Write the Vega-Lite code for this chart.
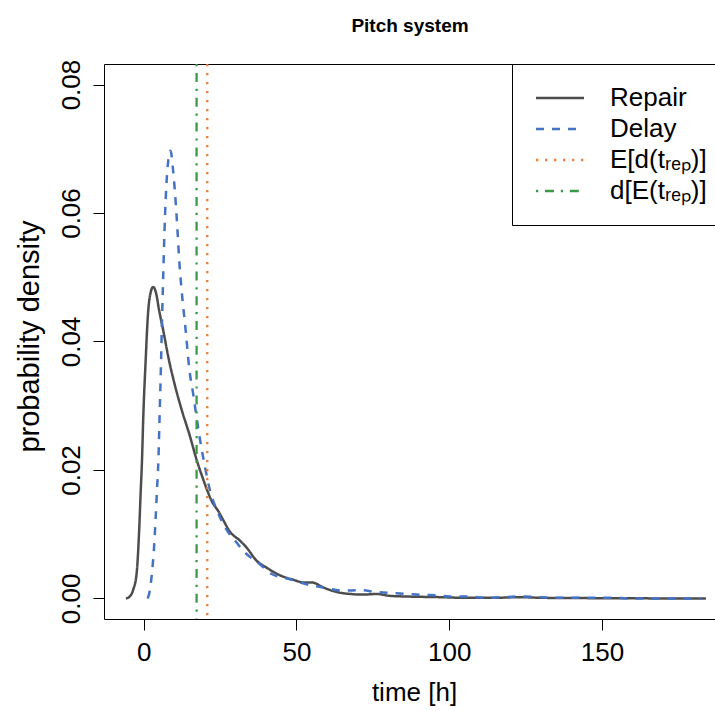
{
  "$schema": "https://vega.github.io/schema/vega-lite/v6.json",
  "width": 612,
  "height": 555,
  "autosize": {"type": "none"},
  "padding": {"left": 104, "top": 64, "right": 0, "bottom": 92},
  "background": "white",
  "config": {
    "view": {"stroke": "black", "strokeWidth": 1},
    "font": "Liberation Sans",
    "axis": {
      "domain": false, "grid": false, "ticks": true, "tickColor": "black", "tickSize": 11, "tickWidth": 1,
      "labelFont": "Liberation Sans", "labelFontSize": 26, "labelColor": "black", "labelFlush": false, "labelOverlap": false,
      "titleFont": "Liberation Sans", "titleFontSize": 26, "titleColor": "black", "titleFontWeight": "normal"
    }
  },
  "title": {"text": "Pitch system", "font": "Liberation Sans", "fontSize": 19, "fontWeight": "bold", "color": "black", "anchor": "middle", "frame": "group", "baseline": "alphabetic", "offset": 8},
  "datasets": {
    "curves": [
      {"series": "Repair", "t": -5.8, "density": 0},
      {"series": "Repair", "t": -4.6, "density": 0.0003},
      {"series": "Repair", "t": -3.4, "density": 0.0014},
      {"series": "Repair", "t": -2.3, "density": 0.004},
      {"series": "Repair", "t": -1.5, "density": 0.0105},
      {"series": "Repair", "t": -1.0, "density": 0.0165},
      {"series": "Repair", "t": -0.6, "density": 0.021},
      {"series": "Repair", "t": -0.1, "density": 0.0289},
      {"series": "Repair", "t": 0.6, "density": 0.0367},
      {"series": "Repair", "t": 1.4, "density": 0.0443},
      {"series": "Repair", "t": 2.2, "density": 0.0475},
      {"series": "Repair", "t": 3.1, "density": 0.0485},
      {"series": "Repair", "t": 4.0, "density": 0.0476},
      {"series": "Repair", "t": 5.1, "density": 0.0447},
      {"series": "Repair", "t": 6.4, "density": 0.0417},
      {"series": "Repair", "t": 8.0, "density": 0.0377},
      {"series": "Repair", "t": 10.2, "density": 0.0332},
      {"series": "Repair", "t": 12.4, "density": 0.0294},
      {"series": "Repair", "t": 15.1, "density": 0.0253},
      {"series": "Repair", "t": 17.3, "density": 0.0216},
      {"series": "Repair", "t": 19.5, "density": 0.0185},
      {"series": "Repair", "t": 20.8, "density": 0.0168},
      {"series": "Repair", "t": 22.2, "density": 0.0152},
      {"series": "Repair", "t": 24.4, "density": 0.0136},
      {"series": "Repair", "t": 25.8, "density": 0.0124},
      {"series": "Repair", "t": 28.2, "density": 0.0104},
      {"series": "Repair", "t": 31.5, "density": 0.009},
      {"series": "Repair", "t": 33.7, "density": 0.0079},
      {"series": "Repair", "t": 36.9, "density": 0.0059},
      {"series": "Repair", "t": 40.2, "density": 0.0048},
      {"series": "Repair", "t": 44.6, "density": 0.0036},
      {"series": "Repair", "t": 49.0, "density": 0.0029},
      {"series": "Repair", "t": 52.2, "density": 0.0025},
      {"series": "Repair", "t": 55.0, "density": 0.0025},
      {"series": "Repair", "t": 58.8, "density": 0.0017},
      {"series": "Repair", "t": 63.2, "density": 0.001},
      {"series": "Repair", "t": 67.5, "density": 0.0007},
      {"series": "Repair", "t": 71.9, "density": 0.0006},
      {"series": "Repair", "t": 76.2, "density": 0.0007},
      {"series": "Repair", "t": 80.6, "density": 0.0004},
      {"series": "Repair", "t": 86.1, "density": 0.0003},
      {"series": "Repair", "t": 97, "density": 0.0002},
      {"series": "Repair", "t": 105, "density": 0.0001},
      {"series": "Repair", "t": 115, "density": 0.0001},
      {"series": "Repair", "t": 123, "density": 0.0002},
      {"series": "Repair", "t": 130, "density": 0.0001},
      {"series": "Repair", "t": 145, "density": 0.00005},
      {"series": "Repair", "t": 160, "density": 0.00002},
      {"series": "Repair", "t": 175, "density": 0},
      {"series": "Repair", "t": 184, "density": 0},
      {"series": "Delay", "t": 1.3, "density": 0},
      {"series": "Delay", "t": 2.0, "density": 0.0012},
      {"series": "Delay", "t": 2.6, "density": 0.0035},
      {"series": "Delay", "t": 3.4, "density": 0.0081},
      {"series": "Delay", "t": 3.9, "density": 0.0125},
      {"series": "Delay", "t": 4.3, "density": 0.0165},
      {"series": "Delay", "t": 4.8, "density": 0.0215},
      {"series": "Delay", "t": 5.2, "density": 0.0285},
      {"series": "Delay", "t": 5.6, "density": 0.0355},
      {"series": "Delay", "t": 6.0, "density": 0.0435},
      {"series": "Delay", "t": 6.4, "density": 0.0505},
      {"series": "Delay", "t": 6.8, "density": 0.0572},
      {"series": "Delay", "t": 7.2, "density": 0.0622},
      {"series": "Delay", "t": 7.6, "density": 0.0658},
      {"series": "Delay", "t": 8.1, "density": 0.0684},
      {"series": "Delay", "t": 8.8, "density": 0.0697},
      {"series": "Delay", "t": 9.5, "density": 0.0672},
      {"series": "Delay", "t": 10.2, "density": 0.0634},
      {"series": "Delay", "t": 11.0, "density": 0.0577},
      {"series": "Delay", "t": 11.6, "density": 0.0528},
      {"series": "Delay", "t": 12.4, "density": 0.048},
      {"series": "Delay", "t": 13.8, "density": 0.0414},
      {"series": "Delay", "t": 14.9, "density": 0.0358},
      {"series": "Delay", "t": 16.2, "density": 0.0318},
      {"series": "Delay", "t": 17.3, "density": 0.0282},
      {"series": "Delay", "t": 18.4, "density": 0.0248},
      {"series": "Delay", "t": 20.0, "density": 0.0206},
      {"series": "Delay", "t": 21.7, "density": 0.0168},
      {"series": "Delay", "t": 24.0, "density": 0.0137},
      {"series": "Delay", "t": 27.1, "density": 0.0107},
      {"series": "Delay", "t": 30.4, "density": 0.0087},
      {"series": "Delay", "t": 32.6, "density": 0.0074},
      {"series": "Delay", "t": 35.5, "density": 0.0062},
      {"series": "Delay", "t": 38.1, "density": 0.0053},
      {"series": "Delay", "t": 41.9, "density": 0.0038},
      {"series": "Delay", "t": 44.8, "density": 0.0033},
      {"series": "Delay", "t": 47.9, "density": 0.003},
      {"series": "Delay", "t": 53.3, "density": 0.0022},
      {"series": "Delay", "t": 58.8, "density": 0.0017},
      {"series": "Delay", "t": 65.3, "density": 0.0012},
      {"series": "Delay", "t": 70.8, "density": 0.0013},
      {"series": "Delay", "t": 76.2, "density": 0.001},
      {"series": "Delay", "t": 82.8, "density": 0.0008},
      {"series": "Delay", "t": 89.3, "density": 0.0006},
      {"series": "Delay", "t": 95.9, "density": 0.0005},
      {"series": "Delay", "t": 100.1, "density": 0.0003},
      {"series": "Delay", "t": 106.6, "density": 0.0003},
      {"series": "Delay", "t": 112, "density": 0.0001},
      {"series": "Delay", "t": 117.5, "density": 0.0002},
      {"series": "Delay", "t": 123.5, "density": 0.0003},
      {"series": "Delay", "t": 129.5, "density": 0.0002},
      {"series": "Delay", "t": 135, "density": 0.0001},
      {"series": "Delay", "t": 141, "density": 0.0001},
      {"series": "Delay", "t": 147, "density": 0.0001},
      {"series": "Delay", "t": 153, "density": 0.0001},
      {"series": "Delay", "t": 159, "density": 0},
      {"series": "Delay", "t": 170, "density": 0},
      {"series": "Delay", "t": 182.4, "density": 0}
    ],
    "vlines": [
      {"series": "E[d(tᵣₑₚ)]", "t": 20.8},
      {"series": "d[E(tᵣₑₚ)]", "t": 17.3}
    ]
  },
  "layer": [
    {
      "mark": {"type": "rule", "color": "#bebebe", "strokeWidth": 1.3},
      "encoding": {"y": {"datum": 0, "type": "quantitative"}}
    },
    {
      "data": {"name": "curves"},
      "mark": {"type": "line", "strokeWidth": 2.5, "interpolate": "monotone"},
      "encoding": {
        "x": {"field": "t", "type": "quantitative", "scale": {"domain": [-13.0, 187.3], "nice": false, "zero": false},
              "axis": {"values": [0, 50, 100, 150], "title": "time [h]", "labelPadding": 9, "titleBaseline": "alphabetic", "titleX": 310, "titleY": 81, "titleAlign": "center"}},
        "y": {"field": "density", "type": "quantitative", "scale": {"domain": [-0.0032, 0.0832], "nice": false, "zero": false},
              "axis": {"values": [0, 0.02, 0.04, 0.06, 0.08], "format": ".2f", "title": "probability density", "labelAngle": 270, "labelAlign": "center", "labelBaseline": "alphabetic", "labelPadding": 14, "titleFontSize": 29, "titleAngle": 270, "titleBaseline": "alphabetic", "titleAlign": "center", "titleX": -66, "titleY": 272}},
        "color": {"field": "series", "type": "nominal",
                  "scale": {"domain": ["Repair", "Delay", "E[d(tᵣₑₚ)]", "d[E(tᵣₑₚ)]"], "range": ["#4d4d4d", "#4472c4", "#ed7d31", "#3a9a48"]},
                  "legend": {"title": null, "orient": "none", "legendX": 408, "legendY": 0, "padding": 21, "strokeColor": "black", "fillColor": "white", "symbolType": "M-3,0H3", "symbolSize": 256, "symbolStrokeWidth": 2.5, "symbolOffset": 14, "labelFont": "Liberation Sans", "labelFontSize": 26, "labelColor": "black", "labelOffset": 37, "rowPadding": 5, "labelLimit": 400}},
        "strokeDash": {"field": "series", "type": "nominal",
                  "scale": {"domain": ["Repair", "Delay", "E[d(tᵣₑₚ)]", "d[E(tᵣₑₚ)]"], "range": [[1, 0], [8, 8], [2.3, 6.7], [2.2, 6.8, 9, 6.8]]},
                  "legend": {"title": null, "orient": "none", "legendX": 408, "legendY": 0, "padding": 21, "strokeColor": "black", "fillColor": "white", "symbolType": "M-3,0H3", "symbolSize": 256, "symbolStrokeWidth": 2.5, "symbolOffset": 14, "labelFont": "Liberation Sans", "labelFontSize": 26, "labelColor": "black", "labelOffset": 37, "rowPadding": 5, "labelLimit": 400}}
      }
    },
    {
      "data": {"name": "vlines"},
      "mark": {"type": "rule", "strokeWidth": 2.3},
      "encoding": {
        "x": {"field": "t", "type": "quantitative"},
        "color": {"field": "series", "type": "nominal"},
        "strokeDash": {"field": "series", "type": "nominal"}
      }
    }
  ]
}
